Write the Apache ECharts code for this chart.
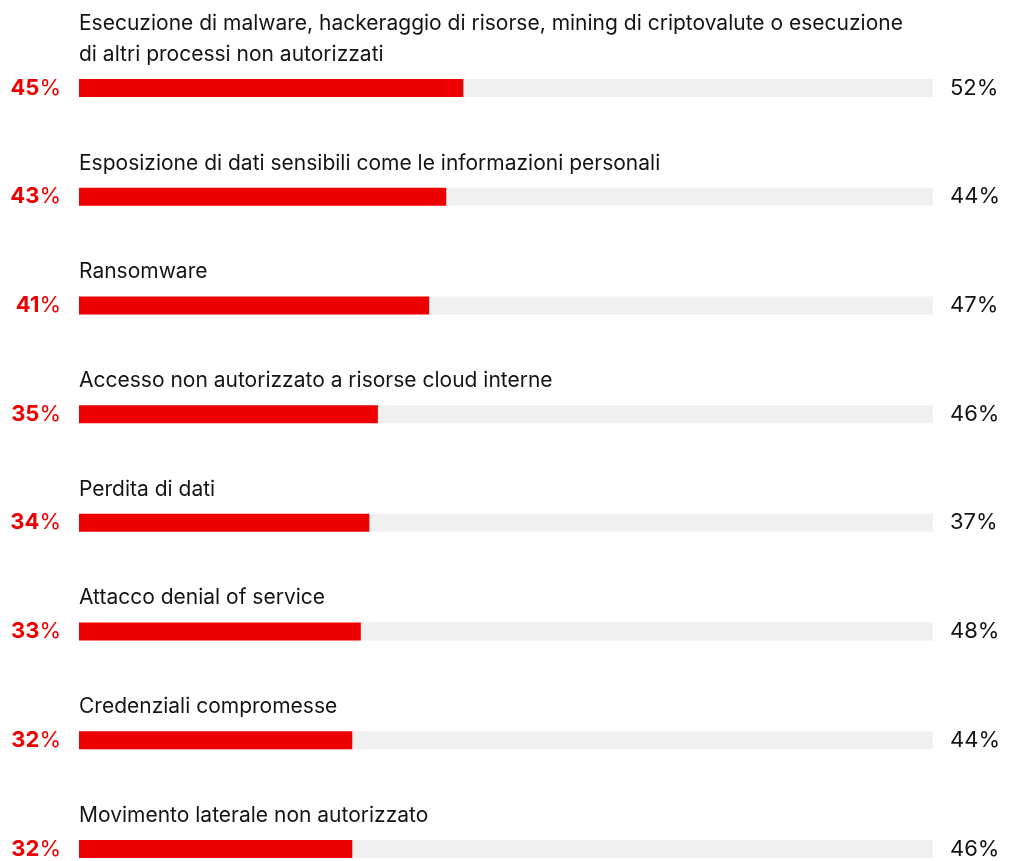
<!DOCTYPE html>
<html>
<head>
<meta charset="utf-8">
<script src="https://cdn.jsdelivr.net/npm/echarts@6/dist/echarts.min.js"></script>
<style>
  html, body { margin: 0; padding: 0; background: #ffffff; }
  #chart { width: 1014px; height: 861px; }
</style>
</head>
<body>
<div id="chart"></div>
<script>
// Minacce alla sicurezza: quota principale (barra rossa) e confronto (a destra)
const categories = [
  'Esecuzione di malware, hackeraggio di risorse, mining di criptovalute o esecuzione\ndi altri processi non autorizzati',
  'Esposizione di dati sensibili come le informazioni personali',
  'Ransomware',
  'Accesso non autorizzato a risorse cloud interne',
  'Perdita di dati',
  'Attacco denial of service',
  'Credenziali compromesse',
  'Movimento laterale non autorizzato'
];
const mainValues = [45, 43, 41, 35, 34, 33, 32, 32];
const compareValues = [52, 44, 47, 46, 37, 48, 44, 46];
const trackValues = [100, 100, 100, 100, 100, 100, 100, 100];

const FONT = 'Inter, "Noto Sans", sans-serif';
const chart = echarts.init(document.getElementById('chart'), null, { renderer: 'canvas' });

chart.setOption({
  animation: false,
  backgroundColor: '#ffffff',
  grid: { left: 79, right: 81, top: 88, bottom: 12, containLabel: false },
  xAxis: { type: 'value', min: 0, max: 100, show: false },
  yAxis: [
    {
      type: 'category', data: categories, inverse: true, boundaryGap: false,
      axisLine: { show: false }, axisTick: { show: false }, axisLabel: { show: false }, splitLine: { show: false }
    },
    {
      type: 'category', data: compareValues, inverse: true, boundaryGap: false, position: 'right',
      axisLine: { show: false }, axisTick: { show: false }, splitLine: { show: false },
      axisLabel: {
        margin: 17, color: '#151515', fontFamily: FONT, fontSize: 22, align: 'left',
        padding: [4, 0, 0, 0],
        formatter: v => v + '%'
      }
    }
  ],
  series: [
    {
      name: 'track', type: 'bar', yAxisIndex: 0, data: trackValues,
      barWidth: 18, barGap: '-100%', silent: true,
      itemStyle: { color: '#f0f0f0' },
      label: {
        show: true, position: [0, -9], align: 'left', verticalAlign: 'bottom',
        color: '#151515', fontFamily: FONT, fontSize: 21, lineHeight: 31,
        formatter: p => categories[p.dataIndex]
      }
    },
    {
      name: 'main', type: 'bar', yAxisIndex: 0, data: mainValues,
      barWidth: 18, barGap: '-100%',
      itemStyle: { color: '#ee0000' },
      label: {
        show: true, position: 'left', distance: 18,
        formatter: p => '{n|' + p.value + '}{p|%}',
        rich: {
          n: { color: '#ee0000', fontFamily: FONT, fontSize: 22, fontWeight: 'bold' },
          p: { color: '#ee0000', fontFamily: FONT, fontSize: 22 }
        }
      }
    }
  ]
});
</script>
</body>
</html>
